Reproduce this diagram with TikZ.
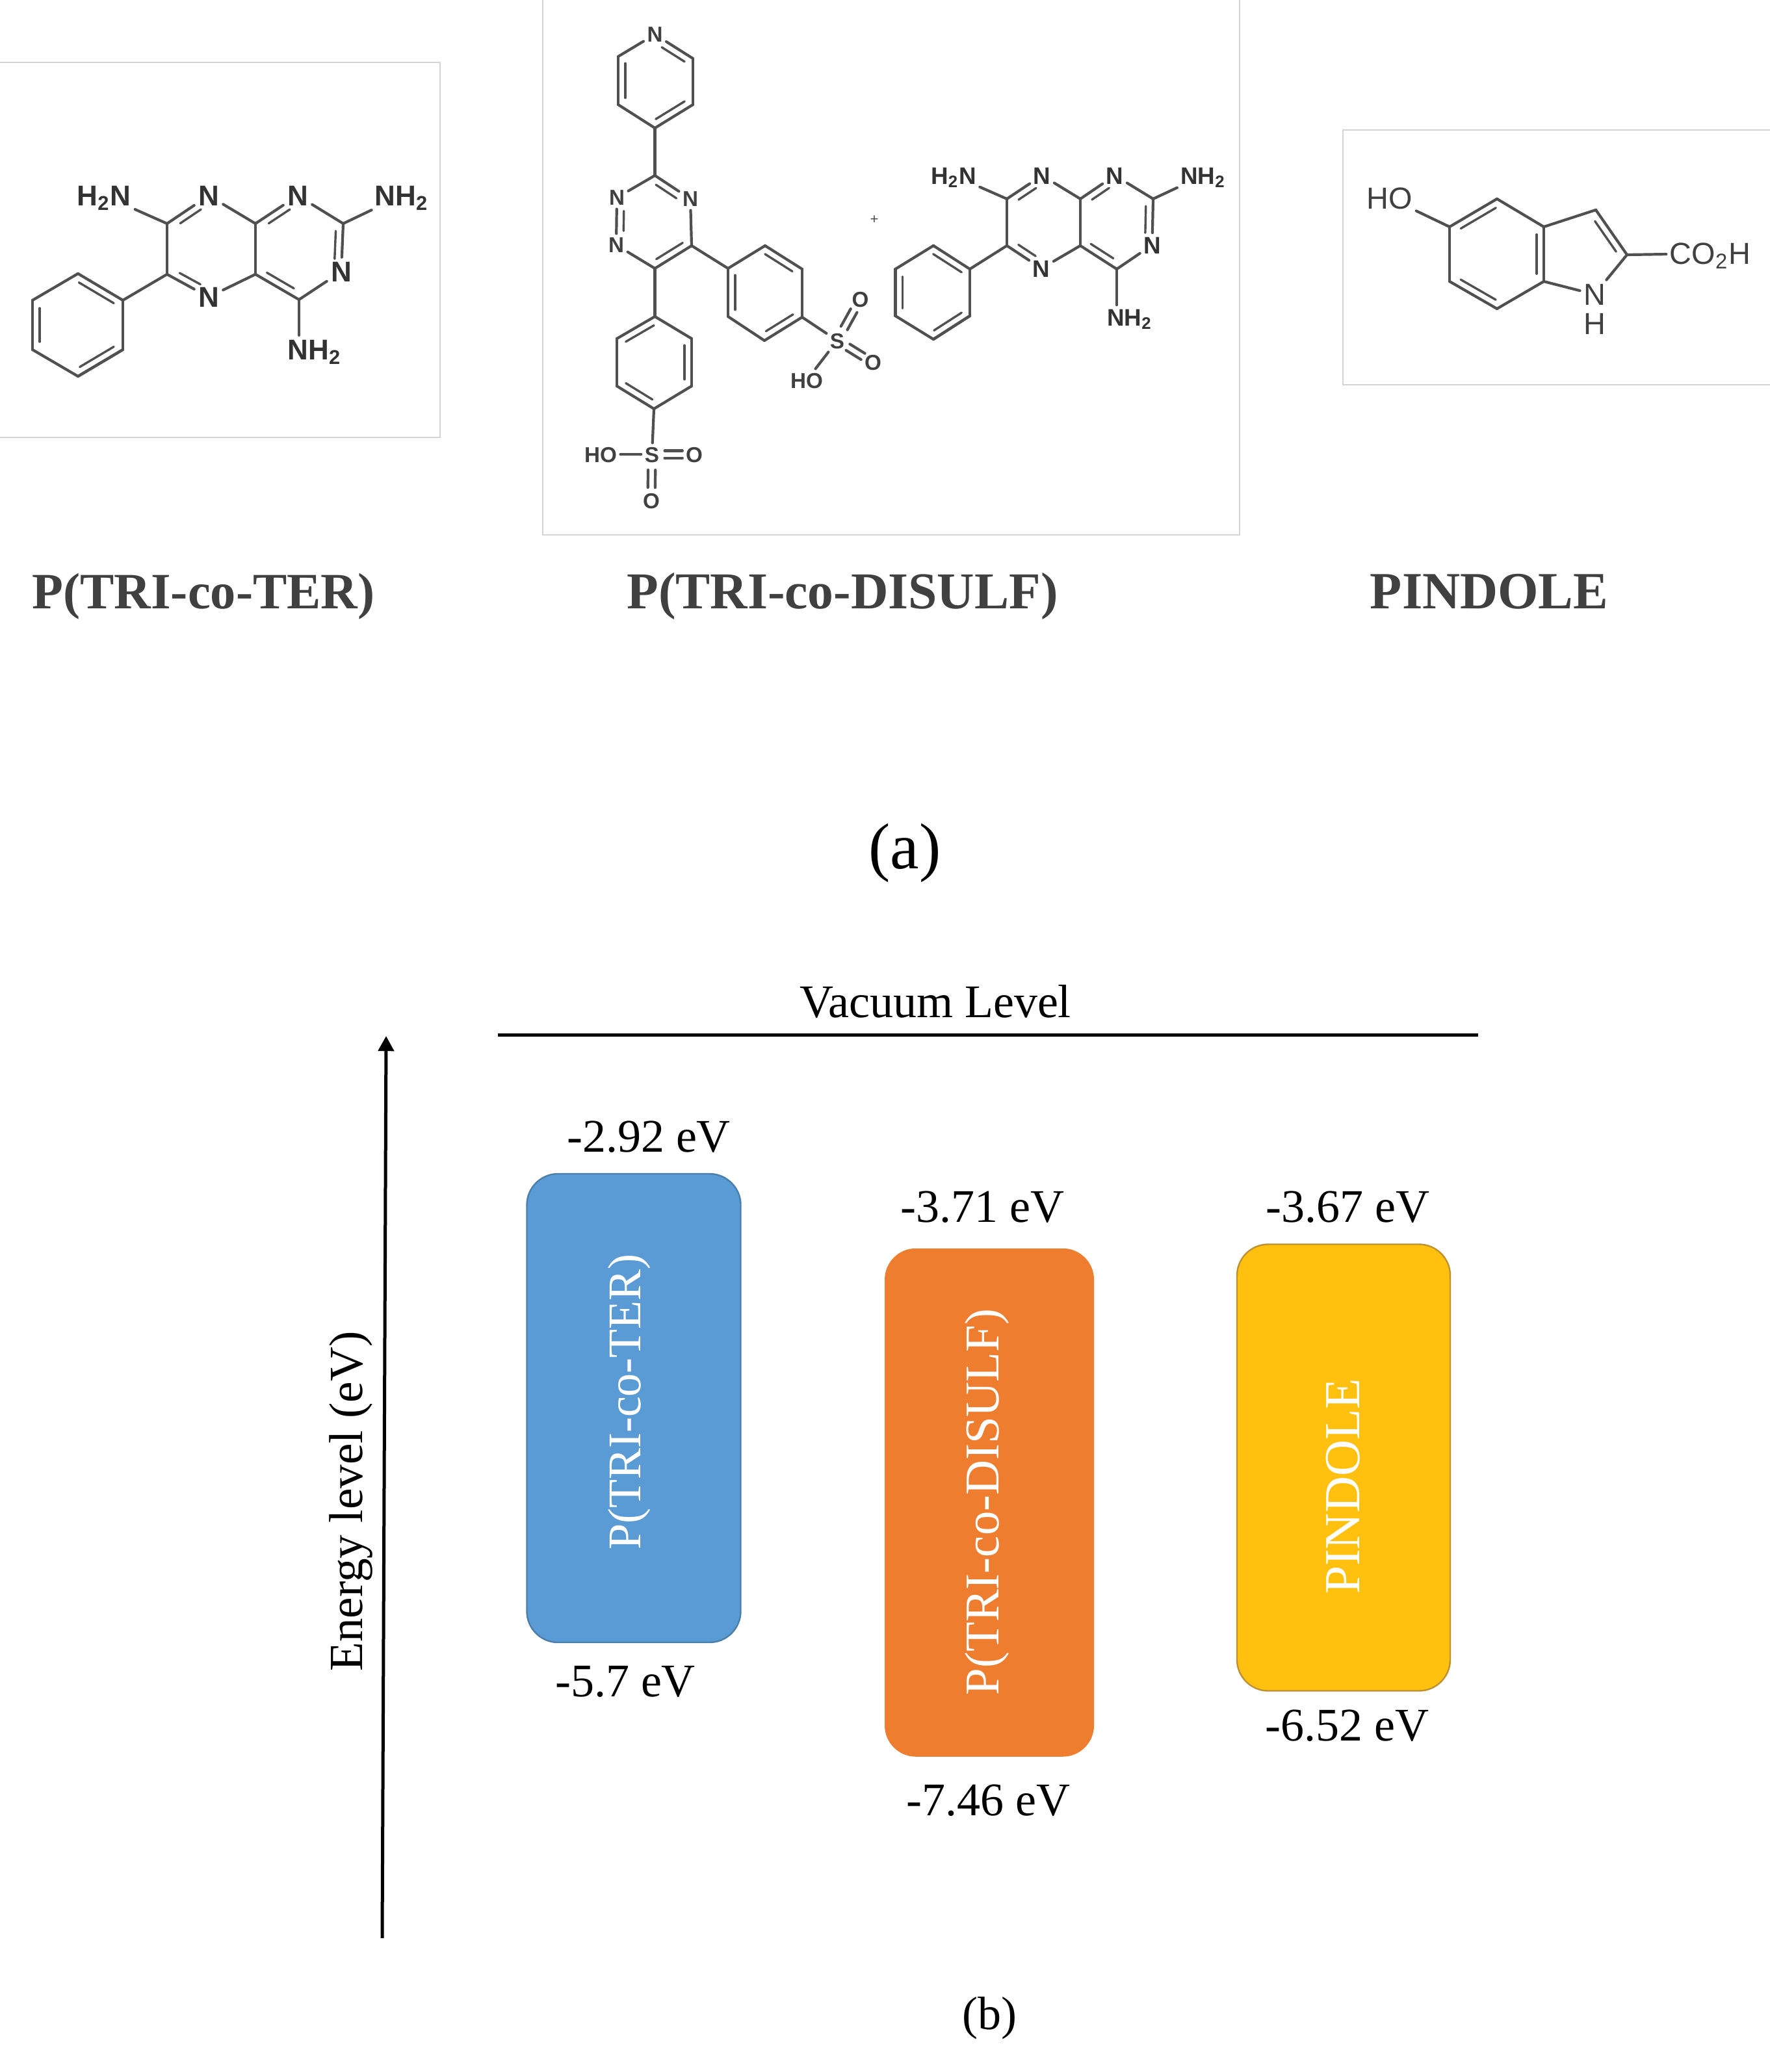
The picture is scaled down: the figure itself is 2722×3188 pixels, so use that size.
\documentclass[tikz,border=0pt]{standalone}
\usepackage{fontspec}
\setmainfont{Liberation Serif}
\newfontfamily\chemfont{Liberation Sans}
\usetikzlibrary{calc,arrows.meta}
\definecolor{bandblue}{HTML}{5B9BD5}
\definecolor{bandblueline}{HTML}{4A7EAB}
\definecolor{bandorange}{HTML}{EF7D30}
\definecolor{bandyellow}{HTML}{FFC010}
\definecolor{bandyellowline}{HTML}{BF9130}
\definecolor{captiongray}{HTML}{404040}
\definecolor{bondgray}{HTML}{505050}
\definecolor{framegray}{HTML}{D4D4D4}
\newcommand{\dbl}[5]{%
  \draw[bond] (#1) -- (#2);
  \draw[innerbond] ($(#1)!#4!(#2)!2.75pt!#3:(#2)$) -- ($(#1)!#5!(#2)!2.75pt!#3:(#2)$);
}
\newcommand{\twin}[4]{%
  \draw[bond] ($(#1)!#3!(#2)!1.4pt!90:(#2)$) -- ($(#1)!#4!(#2)!1.4pt!90:(#2)$);
  \draw[bond] ($(#1)!#3!(#2)!1.4pt!-90:(#2)$) -- ($(#1)!#4!(#2)!1.4pt!-90:(#2)$);
}
\tikzset{
  bond/.style={draw=bondgray,line width=1.05pt,line cap=round},
  innerbond/.style={draw=bondgray,line width=0.85pt,line cap=round},
  frame/.style={draw=framegray,line width=0.45pt,fill=white},
  atomA/.style={font=\chemfont\bfseries\fontsize{11}{12}\selectfont,text=black!80,inner sep=1.6pt,outer sep=0pt,text height=7.9pt,text depth=0pt},
  atomB/.style={font=\chemfont\bfseries\fontsize{8.3}{9}\selectfont,text=black!75,inner sep=1.4pt,outer sep=0pt,text height=6pt,text depth=0pt},
  atomC/.style={font=\chemfont\bfseries\fontsize{9.2}{10}\selectfont,text=black!80,inner sep=1.4pt,outer sep=0pt,text height=6.6pt,text depth=0pt},
  atomD/.style={font=\chemfont\fontsize{11.7}{12}\selectfont,text=black!75,inner sep=1.4pt,outer sep=0pt,text height=8.4pt,text depth=0pt},
  caption/.style={font=\bfseries\fontsize{#1}{22}\selectfont,text=captiongray,anchor=base,inner sep=0pt},
  plain/.style={font=\fontsize{18}{20}\selectfont,text=black,anchor=base,inner sep=0pt},
  band/.style={rounded corners=12pt,inner sep=0pt,outer sep=0pt},
  bandtext/.style={font=\fontsize{#1}{20}\selectfont,text=white,rotate=90,anchor=base,inner sep=0pt},
}
\begin{document}
\begin{tikzpicture}[x=0.25pt,y=-0.25pt]
\useasboundingbox (0,0) rectangle (2722,3188);
% ---- frames
\draw[frame] (-8,96) rectangle (677,673);
\draw[frame] (835,-8) rectangle (1907,823);
\draw[frame] (2066,200) rectangle (2735,592);

% ---- molecule 1
\coordinate (aP1) at (120,421); \coordinate (aP2) at (189,462); \coordinate (aP3) at (189,538);
\coordinate (aP4) at (120,579); \coordinate (aP5) at (50,538);  \coordinate (aP6) at (50,462);
\coordinate (aC1) at (257,344); \coordinate (aC2) at (257,422); \coordinate (aC3) at (393,344);
\coordinate (aC4) at (393,422); \coordinate (aC5) at (528,344); \coordinate (aC6) at (460,461);
\node[atomA] (aN1) at (321,301) {N};
\node[atomA] (aN2) at (321,457) {N};
\node[atomA] (aN3) at (458,301) {N};
\node[atomA] (aN4) at (525,418) {N};
\node[atomA] (aAm1) at (160,301) {H\textsubscript{2}N};
\node[atomA] (aAm2) at (618,301) {NH\textsubscript{2}};
\node[atomA] (aAm3) at (484,538) {NH\textsubscript{2}};
\foreach \a/\b in {aP2/aP3,aP3/aP4,aP4/aP5,aP5/aP6,aP6/aP1,aC1/aC2,aC3/aC4,aP2/aC2,aAm1/aC1,aN1/aC3,aN2/aC4,aN3/aC5,aAm2/aC5,aN4/aC6}
  \draw[bond] (\a) -- (\b);
\draw[bond] (aC6) -- (aC6 |- aAm3.north);
\dbl{aP1}{aP2}{-90}{.1}{.88}
\dbl{aP6}{aP5}{90}{.16}{.84}
\dbl{aP4}{aP3}{90}{.12}{.88}
\dbl{aC1}{aN1}{-90}{.22}{.72}
\dbl{aC2}{aN2}{90}{.22}{.72}
\dbl{aC3}{aN3}{-90}{.22}{.72}
\dbl{aC5}{aN4}{-90}{.16}{.74}
\dbl{aC4}{aC6}{90}{.18}{.8}

% ---- molecule 2, triazine
\node[atomB] (bN) at (1007.5,53) {N};
\coordinate (bA1) at (1066,90);  \coordinate (bA2) at (1066,161); \coordinate (bA3) at (1007.5,197);
\coordinate (bA4) at (951,161);  \coordinate (bA5) at (951,87);
\coordinate (bT1) at (1007.5,270);
\node[atomB] (bT2) at (1062,306) {N};
\coordinate (bT3) at (1064,378); \coordinate (bT4) at (1007.5,413);
\node[atomB] (bT5) at (948,377) {N};
\node[atomB] (bT6) at (949,304) {N};
\coordinate (bR1) at (1120,413); \coordinate (bR2) at (1177,378); \coordinate (bR3) at (1234,414);
\coordinate (bR4) at (1234,488); \coordinate (bR5) at (1176,524); \coordinate (bR6) at (1120,487);
\node[atomB] (bS1) at (1288,524) {S};
\node[atomB] (bO1) at (1323.5,460) {O};
\node[atomB] (bO2) at (1343,558) {O};
\node[atomB] (bH1) at (1241,585) {HO};
\coordinate (bL1) at (1007.5,487); \coordinate (bL2) at (1064,521); \coordinate (bL3) at (1064,594);
\coordinate (bL4) at (1006,629); \coordinate (bL5) at (949,594); \coordinate (bL6) at (949,521);
\node[atomB] (bS2) at (1003,699) {S};
\node[atomB] (bH2) at (924,699) {HO};
\node[atomB] (bO3) at (1068,699) {O};
\node[atomB] (bO4) at (1002,770) {O};
\foreach \a/\b in {bN/bA5,bA1/bA2,bA3/bA4,bA3/bT1,bT6/bT1,bT2/bT3,bT4/bT5,bT3/bR1,bR1/bR2,bR3/bR4,bR5/bR6,bR4/bS1,bS1/bH1,bT4/bL1,bL3/bL4,bL5/bL6,bL1/bL2,bL4/bS2,bH2/bS2}
  \draw[bond] (\a) -- (\b);
\dbl{bN}{bA1}{-90}{.28}{.88}
\dbl{bA2}{bA3}{-90}{.12}{.88}
\dbl{bA4}{bA5}{-90}{.14}{.86}
\dbl{bT1}{bT2}{-90}{.14}{.72}
\draw[innerbond] ($(bT5)!.3!(bT6)!2.75pt!-90:(bT6)$) -- ($(bT5)!.72!(bT6)!2.75pt!-90:(bT6)$);
\draw[bond] (bT5) -- (bT6);
\dbl{bT3}{bT4}{-90}{.14}{.86}
\dbl{bR1}{bR6}{90}{.14}{.86}
\dbl{bR2}{bR3}{-90}{.1}{.84}
\dbl{bR4}{bR5}{-90}{.14}{.86}
\dbl{bL1}{bL6}{90}{.12}{.86}
\dbl{bL2}{bL3}{-90}{.14}{.86}
\dbl{bL5}{bL4}{90}{.14}{.86}
\twin{bS1}{bO1}{.3}{.72}
\twin{bS1}{bO2}{.3}{.72}
\twin{bS2}{bO3}{.3}{.72}
\twin{bS2}{bO4}{.34}{.72}
\node[font=\chemfont\fontsize{5.5}{6}\selectfont,text=black!70,inner sep=0pt] (plus) at (1345,338) {+};

% ---- molecule 2, pteridine
\coordinate (cP1) at (1436,378); \coordinate (cP2) at (1492,414); \coordinate (cP3) at (1492,486);
\coordinate (cP4) at (1436,522); \coordinate (cP5) at (1377.5,486); \coordinate (cP6) at (1377.5,414);
\coordinate (cC1) at (1549,306); \coordinate (cC2) at (1549,378); \coordinate (cC3) at (1662,306);
\coordinate (cC4) at (1662,378); \coordinate (cC5) at (1774,306); \coordinate (cC6) at (1718,414);
\node[atomC] (cN1) at (1603,270) {N};
\node[atomC] (cN2) at (1602,413) {N};
\node[atomC] (cN3) at (1715,270) {N};
\node[atomC] (cN4) at (1772.5,377) {N};
\node[atomC] (cAm1) at (1467,270) {H\textsubscript{2}N};
\node[atomC] (cAm2) at (1851,270) {NH\textsubscript{2}};
\node[atomC] (cAm3) at (1738,488) {NH\textsubscript{2}};
\foreach \a/\b in {cP2/cP3,cP3/cP4,cP4/cP5,cP5/cP6,cP6/cP1,cC1/cC2,cC3/cC4,cP2/cC2,cAm1/cC1,cN1/cC3,cN2/cC4,cN3/cC5,cAm2/cC5,cN4/cC6}
  \draw[bond] (\a) -- (\b);
\draw[bond] (cC6) -- (cC6 |- cAm3.north);
\dbl{cP1}{cP2}{-90}{.1}{.88}
\dbl{cP6}{cP5}{90}{.16}{.84}
\dbl{cP4}{cP3}{90}{.12}{.88}
\dbl{cC1}{cN1}{-90}{.22}{.72}
\dbl{cC2}{cN2}{90}{.22}{.72}
\dbl{cC3}{cN3}{-90}{.22}{.72}
\dbl{cC5}{cN4}{-90}{.16}{.74}
\dbl{cC4}{cC6}{90}{.18}{.8}

% ---- molecule 3
\coordinate (dA1) at (2230,349); \coordinate (dA2) at (2303,306); \coordinate (dA3) at (2375,349);
\coordinate (dA4) at (2375,433); \coordinate (dA5) at (2303,475); \coordinate (dA6) at (2230,433);
\coordinate (dB1) at (2455,323); \coordinate (dB2) at (2503,392);
\node[atomD] (dHO) at (2138,305) {HO};
\node[atomD] (dN) at (2453,453) {N};
\node[atomD] (dH) at (2453,498) {H};
\node[atomD] (dCO) at (2631,390) {CO\textsubscript{2}H};
\foreach \a/\b in {dHO/dA1,dA2/dA3,dA4/dA5,dA6/dA1,dA3/dB1,dA4/dN,dN/dB2,dB2/dCO}
  \draw[bond] (\a) -- (\b);
\dbl{dA1}{dA2}{-90}{.16}{.9}
\dbl{dA3}{dA4}{-90}{.14}{.86}
\dbl{dA6}{dA5}{90}{.16}{.9}
\dbl{dB1}{dB2}{-90}{.16}{.84}

% ---- captions of (a)
\node[caption=19.6] (cap1) at (313,936) {P(TRI-co-TER)};
\node[caption=19.9] (cap2) at (1296,936) {P(TRI-co-DISULF)};
\node[caption=20.1] (cap3) at (2291,936) {PINDOLE};
\node[font=\fontsize{25}{28}\selectfont,anchor=base,inner sep=0pt] (parta) at (1392,1336) {(a)};

% ---- energy diagram
\coordinate (vacL) at (766,1592); \coordinate (vacR) at (2274,1592);
\draw[black,line width=1.25pt] (vacL) -- (vacR);
\node[plain] (vac) at (1439,1565) {Vacuum Level};
\coordinate (axisA) at (588,2982); \coordinate (axisB) at (594,1594);
\draw[black,line width=1.25pt,-{Triangle[length=5.8pt,width=6pt]}] (axisA) -- (axisB);
\node[plain,font=\fontsize{18.3}{20}\selectfont,rotate=90] (ylab) at (557,2310) {Energy level (eV)};

\node[band,fill=bandblue,draw=bandblueline,line width=0.6pt,minimum width=82.25pt,minimum height=180.25pt] (blue) at (975,2166.5) {};
\node[band,fill=bandorange,minimum width=80.5pt,minimum height=195.5pt] (orange) at (1522,2311.75) {};
\node[band,fill=bandyellow,draw=bandyellowline,line width=0.6pt,minimum width=82pt,minimum height=171.75pt] (yellow) at (2067,2258) {};
\node[bandtext=18] (blueT) at (985,2157) {P(TRI-co-TER)};
\node[bandtext=18.7] (orangeT) at (1536,2311) {P(TRI-co-DISULF)};
\node[bandtext=19.4] (yellowT) at (2091,2287) {PINDOLE};

\node[plain] (e1) at (998,1772) {-2.92 eV};
\node[plain] (e2) at (1511,1880) {-3.71 eV};
\node[plain] (e3) at (2073,1880) {-3.67 eV};
\node[plain] (e4) at (962,2610) {-5.7 eV};
\node[plain] (e5) at (1520,2793) {-7.46 eV};
\node[plain] (e6) at (2072,2678) {-6.52 eV};
\node[plain] (partb) at (1522,3122) {(b)};
\end{tikzpicture}
\end{document}
